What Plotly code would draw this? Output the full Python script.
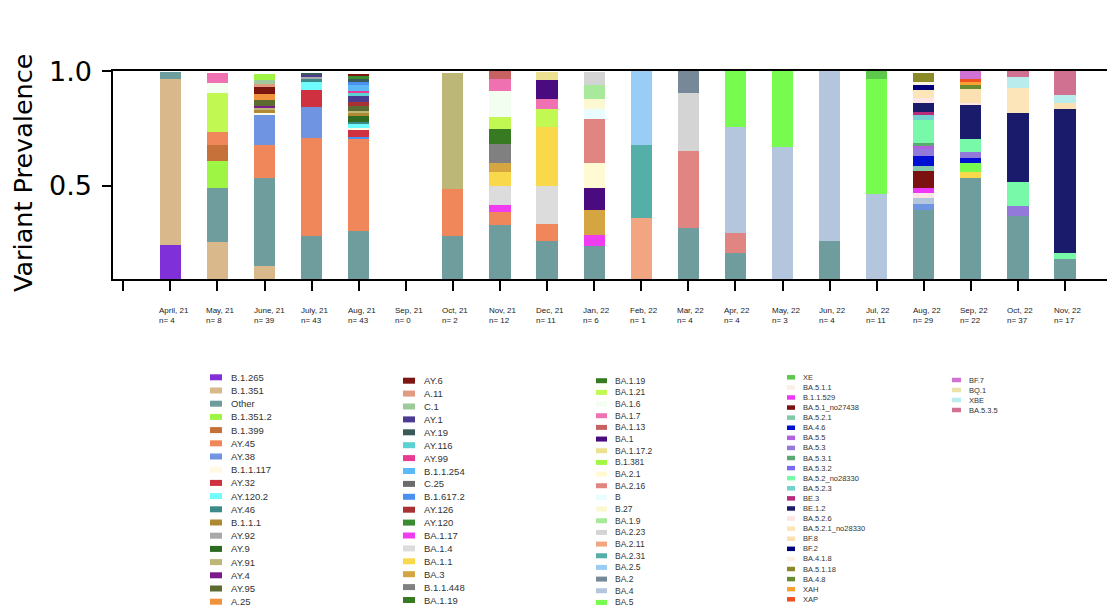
# stacked variant prevalence per month
import plotly.graph_objects as go

# months on the x axis and number of sequences per month
months = ["April, 21", "May, 21", "June, 21", "July, 21", "Aug, 21", "Sep, 21",
          "Oct, 21", "Nov, 21", "Dec, 21", "Jan, 22", "Feb, 22", "Mar, 22",
          "Apr, 22", "May, 22", "Jun, 22", "Jul, 22", "Aug, 22", "Sep, 22",
          "Oct, 22", "Nov, 22"]
counts = [4, 8, 39, 43, 43, 0, 2, 12, 11, 6, 1, 4, 4, 3, 4, 11, 29, 22, 37, 17]

# y ticks
y_ticks = [0.5, 1.0]
y_tick_text = ["0.5", "1.0"]

# lineages per month, bottom to top, with their share
apr21_lin = ["B.1.265", "B.1.351", "Other"]
apr21_val = [0.24, 0.724, 0.03]
may21_lin = ["B.1.351", "Other", "B.1.351.2", "B.1.399", "AY.45", "BA.1.21", "BA.1.6", "BA.1.7"]
may21_val = [0.254, 0.235, 0.120, 0.069, 0.057, 0.168, 0.043, 0.044]
jun21_lin = ["B.1.351", "Other", "AY.45", "AY.38", "B.1.1.117", "B.1.1.1", "AY.91", "AY.4",
             "AY.95", "A.25", "AY.6", "A.11", "C.1", "B.1.351.2"]
jun21_val = [0.149, 0.387, 0.141, 0.133, 0.009, 0.010, 0.010, 0.008,
             0.025, 0.029, 0.028, 0.013, 0.019, 0.025]
jul21_lin = ["Other", "AY.45", "AY.38", "AY.32", "AY.120.2", "AY.46", "AY.92", "AY.1", "AY.19"]
jul21_val = [0.283, 0.427, 0.135, 0.071, 0.038, 0.010, 0.009, 0.012, 0.005]
aug21_lin = ["Other", "AY.45", "B.1.617.2", "AY.32", "B.1.1.117", "AY.120.2", "AY.46", "AY.9",
             "B.1.1.1", "AY.91", "AY.95", "AY.126", "AY.1", "AY.116", "AY.99", "B.1.1.254",
             "B.1.617.2", "AY.19", "AY.120", "AY.6"]
aug21_val = [0.301, 0.403, 0.010, 0.032, 0.006, 0.015, 0.012, 0.026,
             0.012, 0.009, 0.020, 0.020, 0.023, 0.017, 0.009, 0.023,
             0.014, 0.012, 0.014, 0.009]
sep21_lin = []
sep21_val = []
oct21_lin = ["Other", "AY.45", "AY.91"]
oct21_val = [0.283, 0.205, 0.502]
nov21_lin = ["Other", "AY.45", "BA.1.17", "BA.1.4", "BA.1.1", "BA.3", "B.1.1.448", "BA.1.19",
             "BA.1.21", "BA.1.6", "BA.1.7", "BA.1.13"]
nov21_val = [0.329, 0.055, 0.032, 0.081, 0.064, 0.038, 0.084, 0.063,
             0.054, 0.113, 0.054, 0.031]
dec21_lin = ["Other", "AY.45", "BA.1.4", "BA.1.1", "BA.1.21", "BA.1.7", "BA.1", "BA.1.17.2"]
dec21_val = [0.259, 0.074, 0.167, 0.257, 0.076, 0.044, 0.082, 0.037]
jan22_lin = ["Other", "BA.1.17", "BA.3", "BA.1", "BA.2.1", "BA.2.16", "B", "B.27", "BA.1.9", "BA.2.23"]
jan22_val = [0.239, 0.048, 0.109, 0.094, 0.109, 0.194, 0.043, 0.044, 0.061, 0.055]
feb22_lin = ["BA.2.11", "BA.2.31", "BA.2.5"]
feb22_val = [0.358, 0.320, 0.322]
mar22_lin = ["Other", "BA.2.16", "BA.2.23", "BA.2"]
mar22_val = [0.315, 0.337, 0.254, 0.094]
apr22_lin = ["Other", "BA.2.16", "BA.4", "BA.5"]
apr22_val = [0.206, 0.087, 0.461, 0.246]
may22_lin = ["BA.4", "BA.5"]
may22_val = [0.667, 0.333]
jun22_lin = ["Other", "BA.4"]
jun22_val = [0.261, 0.739]
jul22_lin = ["BA.4", "BA.5", "XE"]
jul22_val = [0.465, 0.500, 0.035]
aug22_lin = ["Other", "AY.38", "BA.4", "BA.5.2.6", "B.1.1.529", "BA.5.1_no27438", "BA.5.2.1",
             "BA.4.6", "BA.5.3", "BA.5.5", "BA.5.3.1", "BA.5.2_no28330", "BA.5.2.3", "BE.3",
             "BE.1.2", "BA.5.2.6", "BA.5.2.1_no28330", "BF.2", "BA.4.1.8", "BA.5.1.18"]
aug22_val = [0.396, 0.024, 0.029, 0.019, 0.023, 0.074, 0.022,
             0.041, 0.034, 0.012, 0.012, 0.101, 0.020, 0.015,
             0.040, 0.022, 0.033, 0.021, 0.014, 0.038]
sep22_lin = ["Other", "BA.1.1", "BA.5", "BA.4.6", "BA.5.3", "BA.5.2_no28330", "BE.1.2",
             "BA.5.2.6", "BF.8", "BA.4.8", "XAH", "XAP", "BF.7"]
sep22_val = [0.532, 0.029, 0.038, 0.020, 0.029, 0.058, 0.145,
             0.011, 0.061, 0.015, 0.014, 0.015, 0.031]
oct22_lin = ["Other", "BA.5.3", "BA.5.2_no28330", "BE.1.2", "BA.5.2.1_no28330", "XBE", "BA.5.3.5"]
oct22_val = [0.367, 0.046, 0.102, 0.301, 0.112, 0.047, 0.025]
nov22_lin = ["Other", "BA.5.2_no28330", "BE.1.2", "BF.8", "XBE", "BA.5.3.5"]
nov22_val = [0.181, 0.025, 0.630, 0.023, 0.038, 0.103]

month_lin = [apr21_lin, may21_lin, jun21_lin, jul21_lin, aug21_lin, sep21_lin, oct21_lin,
             nov21_lin, dec21_lin, jan22_lin, feb22_lin, mar22_lin, apr22_lin, may22_lin,
             jun22_lin, jul22_lin, aug22_lin, sep22_lin, oct22_lin, nov22_lin]
month_val = [apr21_val, may21_val, jun21_val, jul21_val, aug21_val, sep21_val, oct21_val,
             nov21_val, dec21_val, jan22_val, feb22_val, mar22_val, apr22_val, may22_val,
             jun22_val, jul22_val, aug22_val, sep22_val, oct22_val, nov22_val]

# legend columns as in the figure
legend_col1 = ["B.1.265", "B.1.351", "Other", "B.1.351.2", "B.1.399", "AY.45", "AY.38",
               "B.1.1.117", "AY.32", "AY.120.2", "AY.46", "B.1.1.1", "AY.92", "AY.9",
               "AY.91", "AY.4", "AY.95", "A.25"]
legend_col2 = ["AY.6", "A.11", "C.1", "AY.1", "AY.19", "AY.116", "AY.99", "B.1.1.254", "C.25",
               "B.1.617.2", "AY.126", "AY.120", "BA.1.17", "BA.1.4", "BA.1.1", "BA.3",
               "B.1.1.448", "BA.1.19"]
legend_col3 = ["BA.1.19", "BA.1.21", "BA.1.6", "BA.1.7", "BA.1.13", "BA.1", "BA.1.17.2",
               "B.1.381", "BA.2.1", "BA.2.16", "B", "B.27", "BA.1.9", "BA.2.23", "BA.2.11",
               "BA.2.31", "BA.2.5", "BA.2", "BA.4", "BA.5"]
legend_col4 = ["XE", "BA.5.1.1", "B.1.1.529", "BA.5.1_no27438", "BA.5.2.1", "BA.4.6", "BA.5.5",
               "BA.5.3", "BA.5.3.1", "BA.5.3.2", "BA.5.2_no28330", "BA.5.2.3", "BE.3", "BE.1.2",
               "BA.5.2.6", "BA.5.2.1_no28330", "BF.8", "BF.2", "BA.4.1.8", "BA.5.1.18", "BA.4.8",
               "XAH", "XAP"]
legend_col5 = ["BF.7", "BQ.1", "XBE", "BA.5.3.5"]

colors = {
    "B.1.265": "#7f30d8", "B.1.351": "#d9b98b", "Other": "#6f9d9d", "B.1.351.2": "#9ef544",
    "B.1.399": "#c6703a", "AY.45": "#ef875b", "AY.38": "#6f95e2", "B.1.1.117": "#fff8e2",
    "AY.32": "#cf3141", "AY.120.2": "#70fbff", "AY.46": "#3b8b8b", "B.1.1.1": "#b08a32",
    "AY.92": "#a9a9a9", "AY.9": "#2e6a22", "AY.91": "#bcb777", "AY.4": "#7b1a8b",
    "AY.95": "#5b6b32", "A.25": "#f1923c",
    "AY.6": "#7b1611", "A.11": "#e19b80", "C.1": "#9dc99b", "AY.1": "#4b3b91",
    "AY.19": "#3b5959", "AY.116": "#5bd1d1", "AY.99": "#e83b91", "B.1.1.254": "#5bb9f8",
    "C.25": "#6b6b6b", "B.1.617.2": "#4b8ff0", "AY.126": "#a93131", "AY.120": "#3b8b31",
    "BA.1.17": "#f03cf0", "BA.1.4": "#dcdcdc", "BA.1.1": "#f9d84b", "BA.3": "#d4a541",
    "B.1.1.448": "#808080", "BA.1.19": "#377a22",
    "BA.1.21": "#c1f852", "BA.1.6": "#f2fff0", "BA.1.7": "#f071b1", "BA.1.13": "#c86161",
    "BA.1": "#4a0b80", "BA.1.17.2": "#ece190", "B.1.381": "#a1f842", "BA.2.1": "#fffad1",
    "BA.2.16": "#e08581", "B": "#e9fcff", "B.27": "#fbf8d2", "BA.1.9": "#a8e99b",
    "BA.2.23": "#d4d4d4", "BA.2.11": "#f1a581", "BA.2.31": "#53afa7", "BA.2.5": "#99cdf5",
    "BA.2": "#778899", "BA.4": "#b4c5de", "BA.5": "#77fb4f",
    "XE": "#5dc94b", "BA.5.1.1": "#faf0e6", "B.1.1.529": "#f039f8", "BA.5.1_no27438": "#7b1111",
    "BA.5.2.1": "#80c9a9", "BA.4.6": "#0010d2", "BA.5.5": "#b061e0", "BA.5.3": "#9379d9",
    "BA.5.3.1": "#5ba971", "BA.5.3.2": "#7b6bf1", "BA.5.2_no28330": "#78f9a9",
    "BA.5.2.3": "#71d1cd", "BE.3": "#b82b7b", "BE.1.2": "#1b1b6b", "BA.5.2.6": "#fbe5e5",
    "BA.5.2.1_no28330": "#fbe5b9", "BF.8": "#fbe1b1", "BF.2": "#00007b", "BA.4.1.8": "#faf3e3",
    "BA.5.1.18": "#8a8a29", "BA.4.8": "#6b8b31", "XAH": "#f8a131", "XAP": "#f05121",
    "BF.7": "#d171d1", "BQ.1": "#ece1a9", "XBE": "#b9eded", "BA.5.3.5": "#d17191",
}

# page is 1115 x 608, the figure div sits 8px in from the page corner
OFF = 8
W, H = 1115 - OFF, 608 - OFF
# plot area edges in page pixels
PL, PR, PT, PB = 113, 1115, 71, 279


def px_x(px):
    return (px - PL) / (PR - PL)


def px_y(py):
    return (PB - py) / (PB - PT)


fig = go.Figure()

# one trace per stacking layer so each month keeps its own order
xs = list(range(1, len(months) + 1))
n_layers = max(len(l) for l in month_lin)
for k in range(n_layers):
    ys, cols, names = [], [], []
    for lin, val in zip(month_lin, month_val):
        if k < len(lin):
            ys.append(val[k])
            cols.append(colors[lin[k]])
            names.append(lin[k])
        else:
            ys.append(0)
            cols.append("rgba(0,0,0,0)")
            names.append("")
    fig.add_trace(go.Bar(
        x=xs, y=ys, width=0.45,
        marker=dict(color=cols, line=dict(width=0)),
        customdata=names,
        hovertemplate="%{customdata}: %{y:.3f}<extra></extra>",
        showlegend=False,
    ))

# month labels with counts under the axis
annotations = []
for i, (m, n) in enumerate(zip(months, counts)):
    annotations.append(dict(
        x=i + 1, xref="x", y=px_y(304), yref="paper",
        text=f"{m}<br>n= {n}", showarrow=False, align="left",
        xanchor="left", yanchor="top", xshift=-13,
        font=dict(family="Liberation Sans", size=8, color="#222222"),
    ))

# y tick labels, placed a bit away from the tick marks
for v, t in zip(y_ticks, y_tick_text):
    annotations.append(dict(
        x=px_x(94), xref="paper", y=v, yref="y",
        text=t, showarrow=False, xanchor="right", yanchor="middle",
        font=dict(family="DejaVu Sans", size=27, color="black"),
    ))

# y axis title, rotated
annotations.append(dict(
    x=px_x(23), xref="paper", y=px_y(173), yref="paper",
    text="Variant Prevalence", textangle=-90, showarrow=False,
    xanchor="center", yanchor="middle",
    font=dict(family="DejaVu Sans", size=25.5, color="black"),
))

# hand-made legend in five columns
shapes = []
legend_cols = [
    (legend_col1, 210, 229, 377.3, 13.2, 9.5, 12, 6),
    (legend_col2, 403, 422, 380.7, 12.9, 9.5, 12, 6),
    (legend_col3, 596, 613, 380.7, 11.67, 8.5, 11, 5),
    (legend_col4, 787, 801, 377.3, 10.09, 7.5, 8, 4.5),
    (legend_col5, 952, 967, 380.0, 10.0, 7.5, 9, 4.5),
]
for names, sx, tx, y0, step, fs, sw, sh in legend_cols:
    for i, name in enumerate(names):
        cy = y0 + i * step
        shapes.append(dict(
            type="rect", xref="paper", yref="paper",
            x0=px_x(sx), x1=px_x(sx + sw), y0=px_y(cy + sh / 2), y1=px_y(cy - sh / 2),
            fillcolor=colors[name], line=dict(width=0),
        ))
        annotations.append(dict(
            x=px_x(tx), xref="paper", y=px_y(cy), yref="paper",
            text=name, showarrow=False, xanchor="left", yanchor="middle",
            font=dict(family="Liberation Sans", size=fs, color="#333333"),
        ))

fig.update_layout(
    width=W, height=H,
    margin=dict(l=PL - OFF, r=W - (PR - OFF), t=PT - OFF, b=H - (PB - OFF)),
    paper_bgcolor="white", plot_bgcolor="white",
    barmode="stack", bargap=0,
    showlegend=False,
    annotations=annotations,
    shapes=shapes,
    font=dict(family="DejaVu Sans", color="black"),
)
fig.update_xaxes(
    range=[-0.217, 21.06],
    tickvals=list(range(0, 22)), ticktext=[""] * 22,
    ticks="outside", ticklen=10, tickwidth=2, tickcolor="black",
    showline=True, linewidth=2, linecolor="black", mirror=True,
    showgrid=False, zeroline=False, fixedrange=True,
)
fig.update_yaxes(
    range=[0.094, 1.0],
    tickvals=y_ticks, ticktext=["", ""],
    ticks="outside", ticklen=9, tickwidth=2, tickcolor="black",
    showline=True, linewidth=2, linecolor="black",
    showgrid=False, zeroline=False,
)

fig.write_html("out.html")
